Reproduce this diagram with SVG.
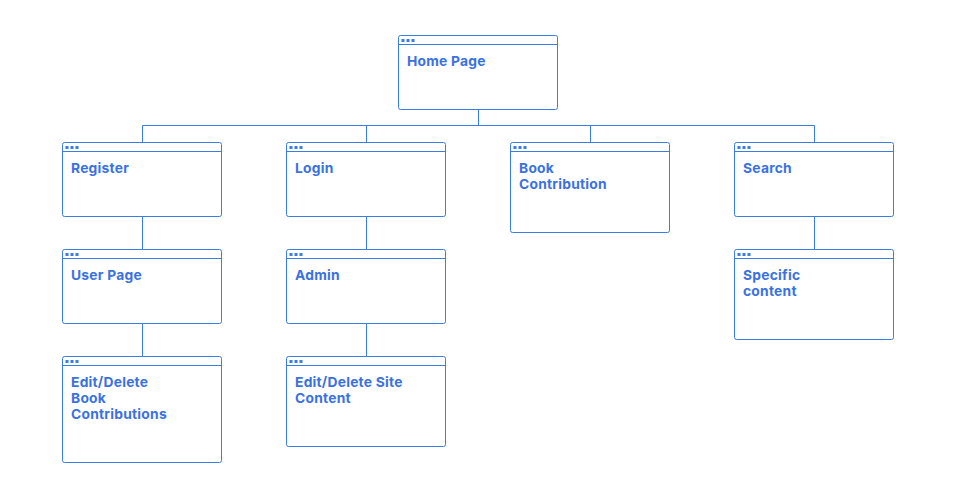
<svg xmlns="http://www.w3.org/2000/svg" width="963" height="489" viewBox="0 0 963 489">
<defs>
<style>
.box{fill:#fff;stroke:#3a7de3;stroke-width:1}
.hdr{stroke:#3a7de3;stroke-width:1}
.dot{fill:#3a7de3}
.lbl{font-family:Inter,"Liberation Sans",sans-serif;font-weight:700;font-size:13.8px;letter-spacing:0.25px;fill:#3a72e0}
.con{stroke:#3a7de3;stroke-width:1;fill:none}
</style>
<g id="dots"><rect x="3" y="3.5" width="3" height="3" class="dot"/><rect x="8" y="3.5" width="3" height="3" class="dot"/><rect x="13" y="3.5" width="3" height="3" class="dot"/></g>
</defs>
<rect width="963" height="489" fill="#fff"/>
<g id="connectors">
<path class="con" d="M478.5 109.5V125.5M142.5 125.5H814.5M142.5 125.5V142.5M366.5 125.5V142.5M590.5 125.5V142.5M814.5 125.5V142.5"/>
<path class="con" d="M142.5 216.5V249.5M142.5 323.5V356.5M366.5 216.5V249.5M366.5 323.5V356.5M814.5 216.5V249.5"/>
</g>
<g id="home"><rect class="box" x="398.5" y="35.5" width="159" height="74" rx="2"/><line class="hdr" x1="398.5" y1="44.5" x2="557.5" y2="44.5"/><use href="#dots" x="398.5" y="35.5"/><text class="lbl" x="407" y="66">Home Page</text></g>
<g id="register"><rect class="box" x="62.5" y="142.5" width="159" height="74" rx="2"/><line class="hdr" x1="62.5" y1="151.5" x2="221.5" y2="151.5"/><use href="#dots" x="62.5" y="142.5"/><text class="lbl" x="71" y="173">Register</text></g>
<g id="login"><rect class="box" x="286.5" y="142.5" width="159" height="74" rx="2"/><line class="hdr" x1="286.5" y1="151.5" x2="445.5" y2="151.5"/><use href="#dots" x="286.5" y="142.5"/><text class="lbl" x="295" y="173">Login</text></g>
<g id="book"><rect class="box" x="510.5" y="142.5" width="159" height="90" rx="2"/><line class="hdr" x1="510.5" y1="151.5" x2="669.5" y2="151.5"/><use href="#dots" x="510.5" y="142.5"/><text class="lbl" x="519" y="173">Book</text><text class="lbl" x="519" y="189">Contribution</text></g>
<g id="search"><rect class="box" x="734.5" y="142.5" width="159" height="74" rx="2"/><line class="hdr" x1="734.5" y1="151.5" x2="893.5" y2="151.5"/><use href="#dots" x="734.5" y="142.5"/><text class="lbl" x="743" y="173">Search</text></g>
<g id="userpage"><rect class="box" x="62.5" y="249.5" width="159" height="74" rx="2"/><line class="hdr" x1="62.5" y1="258.5" x2="221.5" y2="258.5"/><use href="#dots" x="62.5" y="249.5"/><text class="lbl" x="71" y="280">User Page</text></g>
<g id="admin"><rect class="box" x="286.5" y="249.5" width="159" height="74" rx="2"/><line class="hdr" x1="286.5" y1="258.5" x2="445.5" y2="258.5"/><use href="#dots" x="286.5" y="249.5"/><text class="lbl" x="295" y="280">Admin</text></g>
<g id="specific"><rect class="box" x="734.5" y="249.5" width="159" height="90" rx="2"/><line class="hdr" x1="734.5" y1="258.5" x2="893.5" y2="258.5"/><use href="#dots" x="734.5" y="249.5"/><text class="lbl" x="743" y="280">Specific</text><text class="lbl" x="743" y="296">content</text></g>
<g id="editbook"><rect class="box" x="62.5" y="356.5" width="159" height="106" rx="2"/><line class="hdr" x1="62.5" y1="365.5" x2="221.5" y2="365.5"/><use href="#dots" x="62.5" y="356.5"/><text class="lbl" x="71" y="387">Edit/Delete</text><text class="lbl" x="71" y="403">Book</text><text class="lbl" x="71" y="419">Contributions</text></g>
<g id="editsite"><rect class="box" x="286.5" y="356.5" width="159" height="90" rx="2"/><line class="hdr" x1="286.5" y1="365.5" x2="445.5" y2="365.5"/><use href="#dots" x="286.5" y="356.5"/><text class="lbl" x="295" y="387">Edit/Delete Site</text><text class="lbl" x="295" y="403">Content</text></g>
</svg>
